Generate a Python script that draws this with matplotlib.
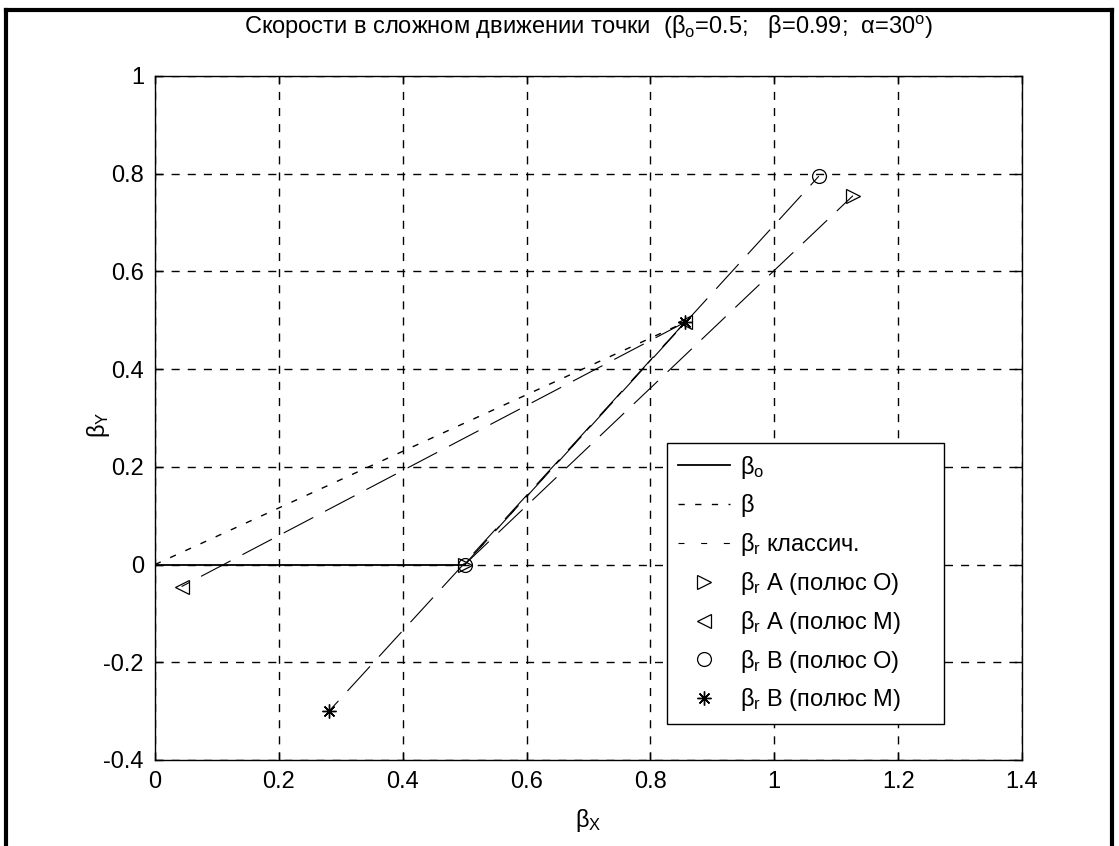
import matplotlib
matplotlib.use("Agg")
import matplotlib.pyplot as plt
from matplotlib.lines import Line2D
from matplotlib.patches import Rectangle

plt.rcParams['font.family'] = ['Liberation Sans', 'DejaVu Sans']
plt.rcParams['mathtext.fontset'] = 'custom'
plt.rcParams['mathtext.rm'] = 'Liberation Sans'
plt.rcParams['mathtext.it'] = 'Liberation Sans'
plt.rcParams['mathtext.default'] = 'regular'

# ---- data ----
beta_o_x = [0.0, 0.5]
beta_o_y = [0.0, 0.0]
beta_x = [0.0, 0.856]
beta_y = [0.0, 0.496]
classic_x = [0.5, 0.856]
classic_y = [0.0, 0.496]
rA_O_x = [0.5, 1.127]
rA_O_y = [0.0, 0.755]
rA_M_x = [0.856, 0.043]
rA_M_y = [0.496, -0.045]
rB_O_x = [0.5, 1.072]
rB_O_y = [0.0, 0.795]
rB_M_x = [0.856, 0.281]
rB_M_y = [0.496, -0.300]

xticks = [0, 0.2, 0.4, 0.6, 0.8, 1.0, 1.2, 1.4]
yticks = [-0.4, -0.2, 0, 0.2, 0.4, 0.6, 0.8, 1.0]
xtick_labels = ['0', '0.2', '0.4', '0.6', '0.8', '1', '1.2', '1.4']
ytick_labels = ['-0.4', '-0.2', '0', '0.2', '0.4', '0.6', '0.8', '1']

title = r'Скорости в сложном движении точки  ($\beta_o$=0.5;   $\beta$=0.99;  $\alpha$=30$^o$)'
labels = [r'$\beta_o$', r'$\beta$', r'$\beta_r$ классич.',
          r'$\beta_r$ A (полюс O)', r'$\beta_r$ A (полюс M)',
          r'$\beta_r$ B (полюс O)', r'$\beta_r$ B (полюс M)']

FS = 17
W, H = 1119, 846
fig = plt.figure(figsize=(W/100, H/100), dpi=100)
ax = fig.add_axes([155/W, 1-760/H, (1022-155)/W, (760-76)/H])

ms = 10
star = (8, 2, 0)
rel_ls = (0, (30, 12))
h0, = ax.plot(beta_o_x, beta_o_y, color='black', lw=1.3, ls='-')
h1, = ax.plot(beta_x, beta_y, color='black', lw=1.0, ls=(0, (4.5, 7.5)))
h2, = ax.plot(classic_x, classic_y, color='black', lw=0.8, ls=(0, (5.4, 15)))
ax.plot(rA_O_x, rA_O_y, color='black', lw=0.8, ls=rel_ls)
ax.plot(rA_M_x, rA_M_y, color='black', lw=0.8, ls=rel_ls)
ax.plot(rB_O_x, rB_O_y, color='black', lw=0.8, ls=rel_ls)
ax.plot(rB_M_x, rB_M_y, color='black', lw=0.8, ls=rel_ls)
h3, = ax.plot(rA_O_x, rA_O_y, ls='none', marker='>', ms=ms, mfc='none', mec='black', mew=0.9)
h4, = ax.plot(rA_M_x, rA_M_y, ls='none', marker='<', ms=ms, mfc='none', mec='black', mew=0.9)
h5, = ax.plot(rB_O_x, rB_O_y, ls='none', marker='o', ms=ms, mfc='none', mec='black', mew=0.9)
h6, = ax.plot(rB_M_x, rB_M_y, ls='none', marker=star, ms=ms, mfc='none', mec='black', mew=1.0)

ax.set_xlim(0, 1.4)
ax.set_ylim(-0.4, 1.0)
ax.set_xticks(xticks)
ax.set_xticklabels(xtick_labels, fontsize=FS)
ax.set_yticks(yticks)
ax.set_yticklabels(ytick_labels, fontsize=FS)
ax.tick_params(direction='in', length=6, width=1, top=True, right=True, pad=8)
ax.grid(True, color='black', ls=(0, (5.8, 5.8)), lw=1.0)
for s in ax.spines.values():
    s.set_linewidth(1.0)

ax.set_title(title, fontsize=FS, pad=30)
ax.set_xlabel(r'$\beta_X$', fontsize=FS, labelpad=10)
ax.set_ylabel(r'$\beta_Y$', fontsize=FS)
ax.yaxis.set_label_coords((112-155)/867, (760-425)/684)

leg_left = (667-155)/867
leg_right = (944-155)/867
leg_top = (760-443)/684
leg = ax.legend([h0, h1, h2, h3, h4, h5, h6], labels, loc='upper left',
                bbox_to_anchor=(leg_left, leg_top), fontsize=FS,
                frameon=True, fancybox=False, framealpha=1, edgecolor='black',
                handlelength=2.2, handletextpad=0.45, labelspacing=0.5,
                borderpad=0.45, borderaxespad=0)
leg.get_frame().set_linewidth(1.0)

# widen the legend box to the reference's width (MATLAB style right padding)
fig.canvas.draw()
bb = leg.get_frame().get_window_extent().transformed(ax.transAxes.inverted())
leg.get_frame().set_visible(False)
ax.add_patch(Rectangle((leg_left, bb.y0), leg_right-leg_left, leg_top-bb.y0,
                       transform=ax.transAxes, facecolor='white', edgecolor='black',
                       lw=1.0, zorder=4.9))

# figure border
for xs, ys in [([6/W, 6/W], [0, 1-10/H]),
               ([6/W, 1112/W], [1-10/H, 1-10/H]),
               ([1112/W, 1112/W], [0, 1-10/H])]:
    fig.add_artist(Line2D(xs, ys, color='black', lw=3, transform=fig.transFigure))

fig.savefig('out.png', dpi=100)
